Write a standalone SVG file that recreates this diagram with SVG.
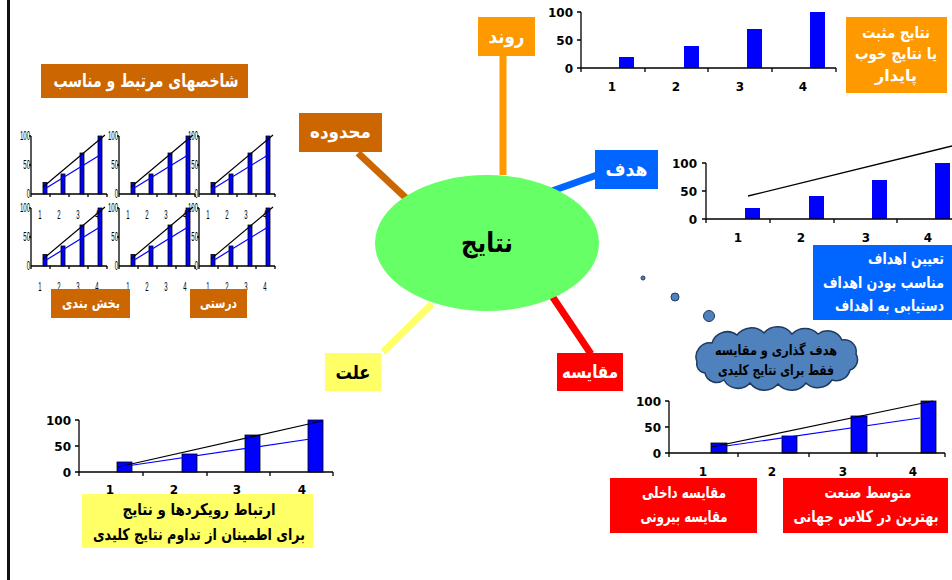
<svg xmlns="http://www.w3.org/2000/svg" xmlns:xlink="http://www.w3.org/1999/xlink" width="952" height="580" viewBox="0 0 952 580">
<style>
.fa{font-family:"DejaVu Sans","Noto Sans",sans-serif;font-weight:bold;text-anchor:middle}
.r{text-anchor:end}
.w{fill:#fff}
.k{fill:#000}
.ax{stroke:#000;stroke-width:1.3;fill:none}
.num{font-family:"DejaVu Sans","Liberation Sans",sans-serif;font-weight:bold;font-size:12px;fill:#000}
.yl{text-anchor:end}
.xl{text-anchor:middle}
.bar{fill:#0000FF}
.baro{fill:#0000FF;stroke:#000;stroke-width:0.8}
.mini{font-family:"Liberation Sans",sans-serif;font-size:12px;fill:#000}
.conn{stroke-width:7;fill:none}
</style>
<defs>
<g id="mini">
  <path class="ax" d="M0,-58V0H76M-2,-58H0M-2,-29H0M0,0V3M19,0V3M38,0V3M57,0V3M76,0V3" stroke-width="1"/>
  <rect class="baro" x="12" y="-11.6" width="4" height="11.6"/>
  <rect class="baro" x="30" y="-20" width="4" height="20"/>
  <rect class="baro" x="49" y="-41" width="4" height="41"/>
  <rect class="baro" x="67" y="-58" width="4" height="58"/>
  <line x1="12" y1="-7" x2="74" y2="-59" stroke="#000" stroke-width="1.2"/>
  <line x1="12" y1="-4" x2="69" y2="-39" stroke="#0000FF" stroke-width="1.2"/>
  <text class="mini" text-anchor="end" transform="translate(-1,-54) scale(0.5,1)">100</text>
  <text class="mini" text-anchor="end" transform="translate(-1,-25) scale(0.5,1)">50</text>
  <text class="mini" text-anchor="end" transform="translate(-1,4) scale(0.5,1)">0</text>
  <text class="mini" text-anchor="middle" transform="translate(9,25) scale(0.5,1)">1</text>
  <text class="mini" text-anchor="middle" transform="translate(28,25) scale(0.5,1)">2</text>
  <text class="mini" text-anchor="middle" transform="translate(47,25) scale(0.5,1)">3</text>
  <text class="mini" text-anchor="middle" transform="translate(66,25) scale(0.5,1)">4</text>
</g>
</defs>
<rect width="952" height="580" fill="#fff"/>
<rect x="7" y="0" width="3" height="580" fill="#111"/>

<g id="connectors">
  <line class="conn" stroke="#FF9900" x1="503" y1="56" x2="503" y2="175"/>
  <line class="conn" stroke="#CC6600" x1="358" y1="153" x2="407" y2="199"/>
  <line class="conn" stroke="#0066FF" x1="552" y1="191" x2="597" y2="175"/>
  <line class="conn" stroke="#FF0000" x1="552" y1="296" x2="591" y2="354"/>
  <line class="conn" stroke="#FFFF66" x1="432" y1="304" x2="383" y2="352"/>
</g>

<g id="center">
  <ellipse cx="487" cy="243" rx="112" ry="68" fill="#66FF66"/>
  <text class="fa k" x="487" y="252" font-size="27" textLength="52" lengthAdjust="spacingAndGlyphs">نتایج</text>
</g>

<g id="ravand">
  <rect x="478" y="17" width="57" height="39" fill="#FF9900"/>
  <text class="fa w" x="506.5" y="43" font-size="19" textLength="36" lengthAdjust="spacingAndGlyphs">روند</text>
</g>
<g id="mahdoode">
  <rect x="299" y="113" width="83" height="39" fill="#CC6600"/>
  <text class="fa w" x="340.5" y="138" font-size="18" textLength="61" lengthAdjust="spacingAndGlyphs">محدوده</text>
</g>
<g id="hadaf">
  <rect x="595" y="150" width="63" height="39" fill="#0066FF"/>
  <text class="fa w" x="626.5" y="176" font-size="19" textLength="42" lengthAdjust="spacingAndGlyphs">هدف</text>
</g>
<g id="moghayese">
  <rect x="557" y="353" width="66" height="38" fill="#FF0000"/>
  <text class="fa w" x="590" y="378" font-size="18" textLength="56" lengthAdjust="spacingAndGlyphs">مقایسه</text>
</g>
<g id="ellat">
  <rect x="325" y="353" width="56" height="38" fill="#FFFF66"/>
  <text class="fa k" x="353" y="379" font-size="19" textLength="35" lengthAdjust="spacingAndGlyphs">علت</text>
</g>

<g id="chart-top">
  <rect class="bar" x="619" y="57" width="15" height="11"/>
  <rect class="bar" x="684" y="46" width="15" height="22"/>
  <rect class="bar" x="747" y="29" width="15" height="39"/>
  <rect class="bar" x="810" y="12" width="15" height="56"/>
  <path class="ax" d="M581,12V68H836M577,12H581M577,40H581M577,68H581M581,68V72M645,68V72M708,68V72M772,68V72M836,68V72"/>
  <text class="num yl" x="573" y="16.5">100</text>
  <text class="num yl" x="573" y="44.5">50</text>
  <text class="num yl" x="573" y="72.5">0</text>
  <text class="num xl" x="612" y="90.5">1</text>
  <text class="num xl" x="676" y="90.5">2</text>
  <text class="num xl" x="740" y="90.5">3</text>
  <text class="num xl" x="803" y="90.5">4</text>
</g>
<g id="natayej-mosbat">
  <rect x="846" y="17" width="101" height="76" fill="#FF9900"/>
  <text class="fa w" x="896" y="37.5" font-size="16" textLength="68" lengthAdjust="spacingAndGlyphs">نتایج مثبت</text>
  <text class="fa w" x="896" y="58.5" font-size="16" textLength="82" lengthAdjust="spacingAndGlyphs">یا نتایج خوب</text>
  <text class="fa w" x="896" y="80.5" font-size="16" textLength="42" lengthAdjust="spacingAndGlyphs">پایدار</text>
</g>

<g id="chart-hadaf">
  <rect class="bar" x="745" y="208" width="15" height="11"/>
  <rect class="bar" x="809" y="196" width="15" height="23"/>
  <rect class="bar" x="872" y="180" width="15" height="39"/>
  <rect class="bar" x="935" y="163" width="15" height="56"/>
  <line x1="748" y1="196" x2="952" y2="146" stroke="#000" stroke-width="1.3"/>
  <path class="ax" d="M706,163V219H952M702,163H706M702,191H706M702,219H706M706,219V223M770,219V223M834,219V223M897,219V223"/>
  <text class="num yl" x="697" y="167.5">100</text>
  <text class="num yl" x="697" y="195.5">50</text>
  <text class="num yl" x="697" y="223.5">0</text>
  <text class="num xl" x="738" y="242">1</text>
  <text class="num xl" x="801" y="242">2</text>
  <text class="num xl" x="866" y="242">3</text>
  <text class="num xl" x="928" y="242">4</text>
</g>
<g id="taeen-ahdaf">
  <rect x="813" y="245" width="139" height="75" fill="#0066FF"/>
  <text class="fa w r" x="944" y="263.5" font-size="16" textLength="76" lengthAdjust="spacingAndGlyphs">تعیین اهداف</text>
  <text class="fa w r" x="944" y="287.5" font-size="16" textLength="121" lengthAdjust="spacingAndGlyphs">مناسب بودن اهداف</text>
  <text class="fa w r" x="944" y="310.5" font-size="16" textLength="109" lengthAdjust="spacingAndGlyphs">دستیابی به اهداف</text>
</g>

<g id="bubbles" fill="#4F81BD" stroke="#1F3A5F" stroke-width="1">
  <circle cx="643" cy="278" r="2"/>
  <circle cx="675" cy="297" r="4"/>
  <circle cx="709" cy="316" r="5.5"/>
</g>
<g id="cloud">
  <path d="M697,362 A14,14 0 0 1 712,343 A16,16 0 0 1 737,335 A18,18 0 0 1 764,333 A18,18 0 0 1 792,334 A18,18 0 0 1 818,334 A16,16 0 0 1 842,340 A12,12 0 0 1 856,354 A11,11 0 0 1 850,370 A14,14 0 0 1 832,380 A17,17 0 0 1 806,383 A18,18 0 0 1 778,384 A18,18 0 0 1 750,383 A16,16 0 0 1 724,380 A12,12 0 0 1 705,373 A9,9 0 0 1 697,362 Z" fill="#4F81BD" stroke="#1F3A5F" stroke-width="1.5"/>
  <text class="fa k" x="776" y="355" font-size="14" textLength="122" lengthAdjust="spacingAndGlyphs">هدف گذاری و مقایسه</text>
  <text class="fa k" x="776" y="375" font-size="14" textLength="116" lengthAdjust="spacingAndGlyphs">فقط برای نتایج کلیدی</text>
</g>

<g id="chart-moghayese">
  <rect class="baro" x="711" y="443" width="16" height="10"/>
  <rect class="baro" x="782" y="436" width="15" height="17"/>
  <rect class="baro" x="851" y="416" width="16" height="37"/>
  <rect class="baro" x="921" y="401" width="15" height="52"/>
  <line x1="712" y1="447" x2="933" y2="401" stroke="#000" stroke-width="1.2"/>
  <line x1="712" y1="448" x2="920" y2="418" stroke="#0000FF" stroke-width="1.2"/>
  <path class="ax" d="M669,401V453H945M665,401H669M665,427H669M665,453H669M669,453V457M738,453V457M809,453V457M877,453V457M945,453V457"/>
  <text class="num yl" x="661" y="405.5" font-size="13.5">100</text>
  <text class="num yl" x="661" y="431.5" font-size="13.5">50</text>
  <text class="num yl" x="661" y="457.5" font-size="13.5">0</text>
  <text class="num xl" x="703" y="475.5">1</text>
  <text class="num xl" x="772" y="475.5">2</text>
  <text class="num xl" x="843" y="475.5">3</text>
  <text class="num xl" x="913" y="475.5">4</text>
</g>
<g id="dakheli">
  <rect x="610" y="478" width="147" height="55" fill="#FF0000"/>
  <text class="fa w" x="684" y="498" font-size="16" textLength="84" lengthAdjust="spacingAndGlyphs">مقایسه داخلی</text>
  <text class="fa w" x="684" y="522" font-size="16" textLength="87" lengthAdjust="spacingAndGlyphs">مقایسه بیرونی</text>
</g>
<g id="sanat">
  <rect x="783" y="478" width="165" height="55" fill="#FF0000"/>
  <text class="fa w" x="868" y="498" font-size="16" textLength="87" lengthAdjust="spacingAndGlyphs">متوسط صنعت</text>
  <text class="fa w" x="866" y="522" font-size="16" textLength="145" lengthAdjust="spacingAndGlyphs">بهترین در کلاس جهانی</text>
</g>

<g id="chart-ellat">
  <rect class="baro" x="117" y="462" width="15" height="10"/>
  <rect class="baro" x="182" y="454" width="15" height="18"/>
  <rect class="baro" x="245" y="435" width="15" height="37"/>
  <rect class="baro" x="308" y="420" width="15" height="52"/>
  <line x1="118" y1="467" x2="322" y2="421" stroke="#000" stroke-width="1.2"/>
  <line x1="120" y1="467" x2="317" y2="438" stroke="#0000FF" stroke-width="1.2"/>
  <path class="ax" d="M79,420V472H333M75,420H79M75,446H79M75,472H79M79,472V476M143,472V476M207,472V476M270,472V476M333,472V476"/>
  <text class="num yl" x="71" y="424.5" font-size="13.5">100</text>
  <text class="num yl" x="71" y="450.5" font-size="13.5">50</text>
  <text class="num yl" x="71" y="476.5" font-size="13.5">0</text>
  <text class="num xl" x="110" y="493.5">1</text>
  <text class="num xl" x="174" y="493.5">2</text>
  <text class="num xl" x="237" y="493.5">3</text>
  <text class="num xl" x="302" y="493.5">4</text>
</g>
<g id="ertebat">
  <rect x="82" y="494" width="231" height="54" fill="#FFFF66"/>
  <text class="fa k" x="199" y="514.5" font-size="16" textLength="153" lengthAdjust="spacingAndGlyphs">ارتباط رویکردها و نتایج</text>
  <text class="fa k" x="199" y="539.5" font-size="16" textLength="212" lengthAdjust="spacingAndGlyphs">برای اطمینان از تداوم نتایج کلیدی</text>
</g>

<g id="shakhes">
  <rect x="41" y="64" width="207" height="34" fill="#CC6600"/>
  <text class="fa w" x="146" y="87" font-size="18" textLength="185" lengthAdjust="spacingAndGlyphs">شاخصهای مرتبط و مناسب</text>
</g>
<g id="mini-charts">
  <use xlink:href="#mini" x="31" y="194"/>
  <use xlink:href="#mini" x="119" y="194"/>
  <use xlink:href="#mini" x="199" y="194"/>
  <use xlink:href="#mini" x="31" y="266"/>
  <use xlink:href="#mini" x="119" y="266"/>
  <use xlink:href="#mini" x="199" y="266"/>
</g>
<g id="bakhshbandi">
  <rect x="51" y="289" width="79" height="29" fill="#CC6600"/>
  <text class="fa w" x="91" y="308" font-size="14" textLength="58" lengthAdjust="spacingAndGlyphs">بخش بندی</text>
</g>
<g id="dorosti">
  <rect x="190" y="289" width="57" height="29" fill="#CC6600"/>
  <text class="fa w" x="218.5" y="308" font-size="14" textLength="37" lengthAdjust="spacingAndGlyphs">درستی</text>
</g>
</svg>
